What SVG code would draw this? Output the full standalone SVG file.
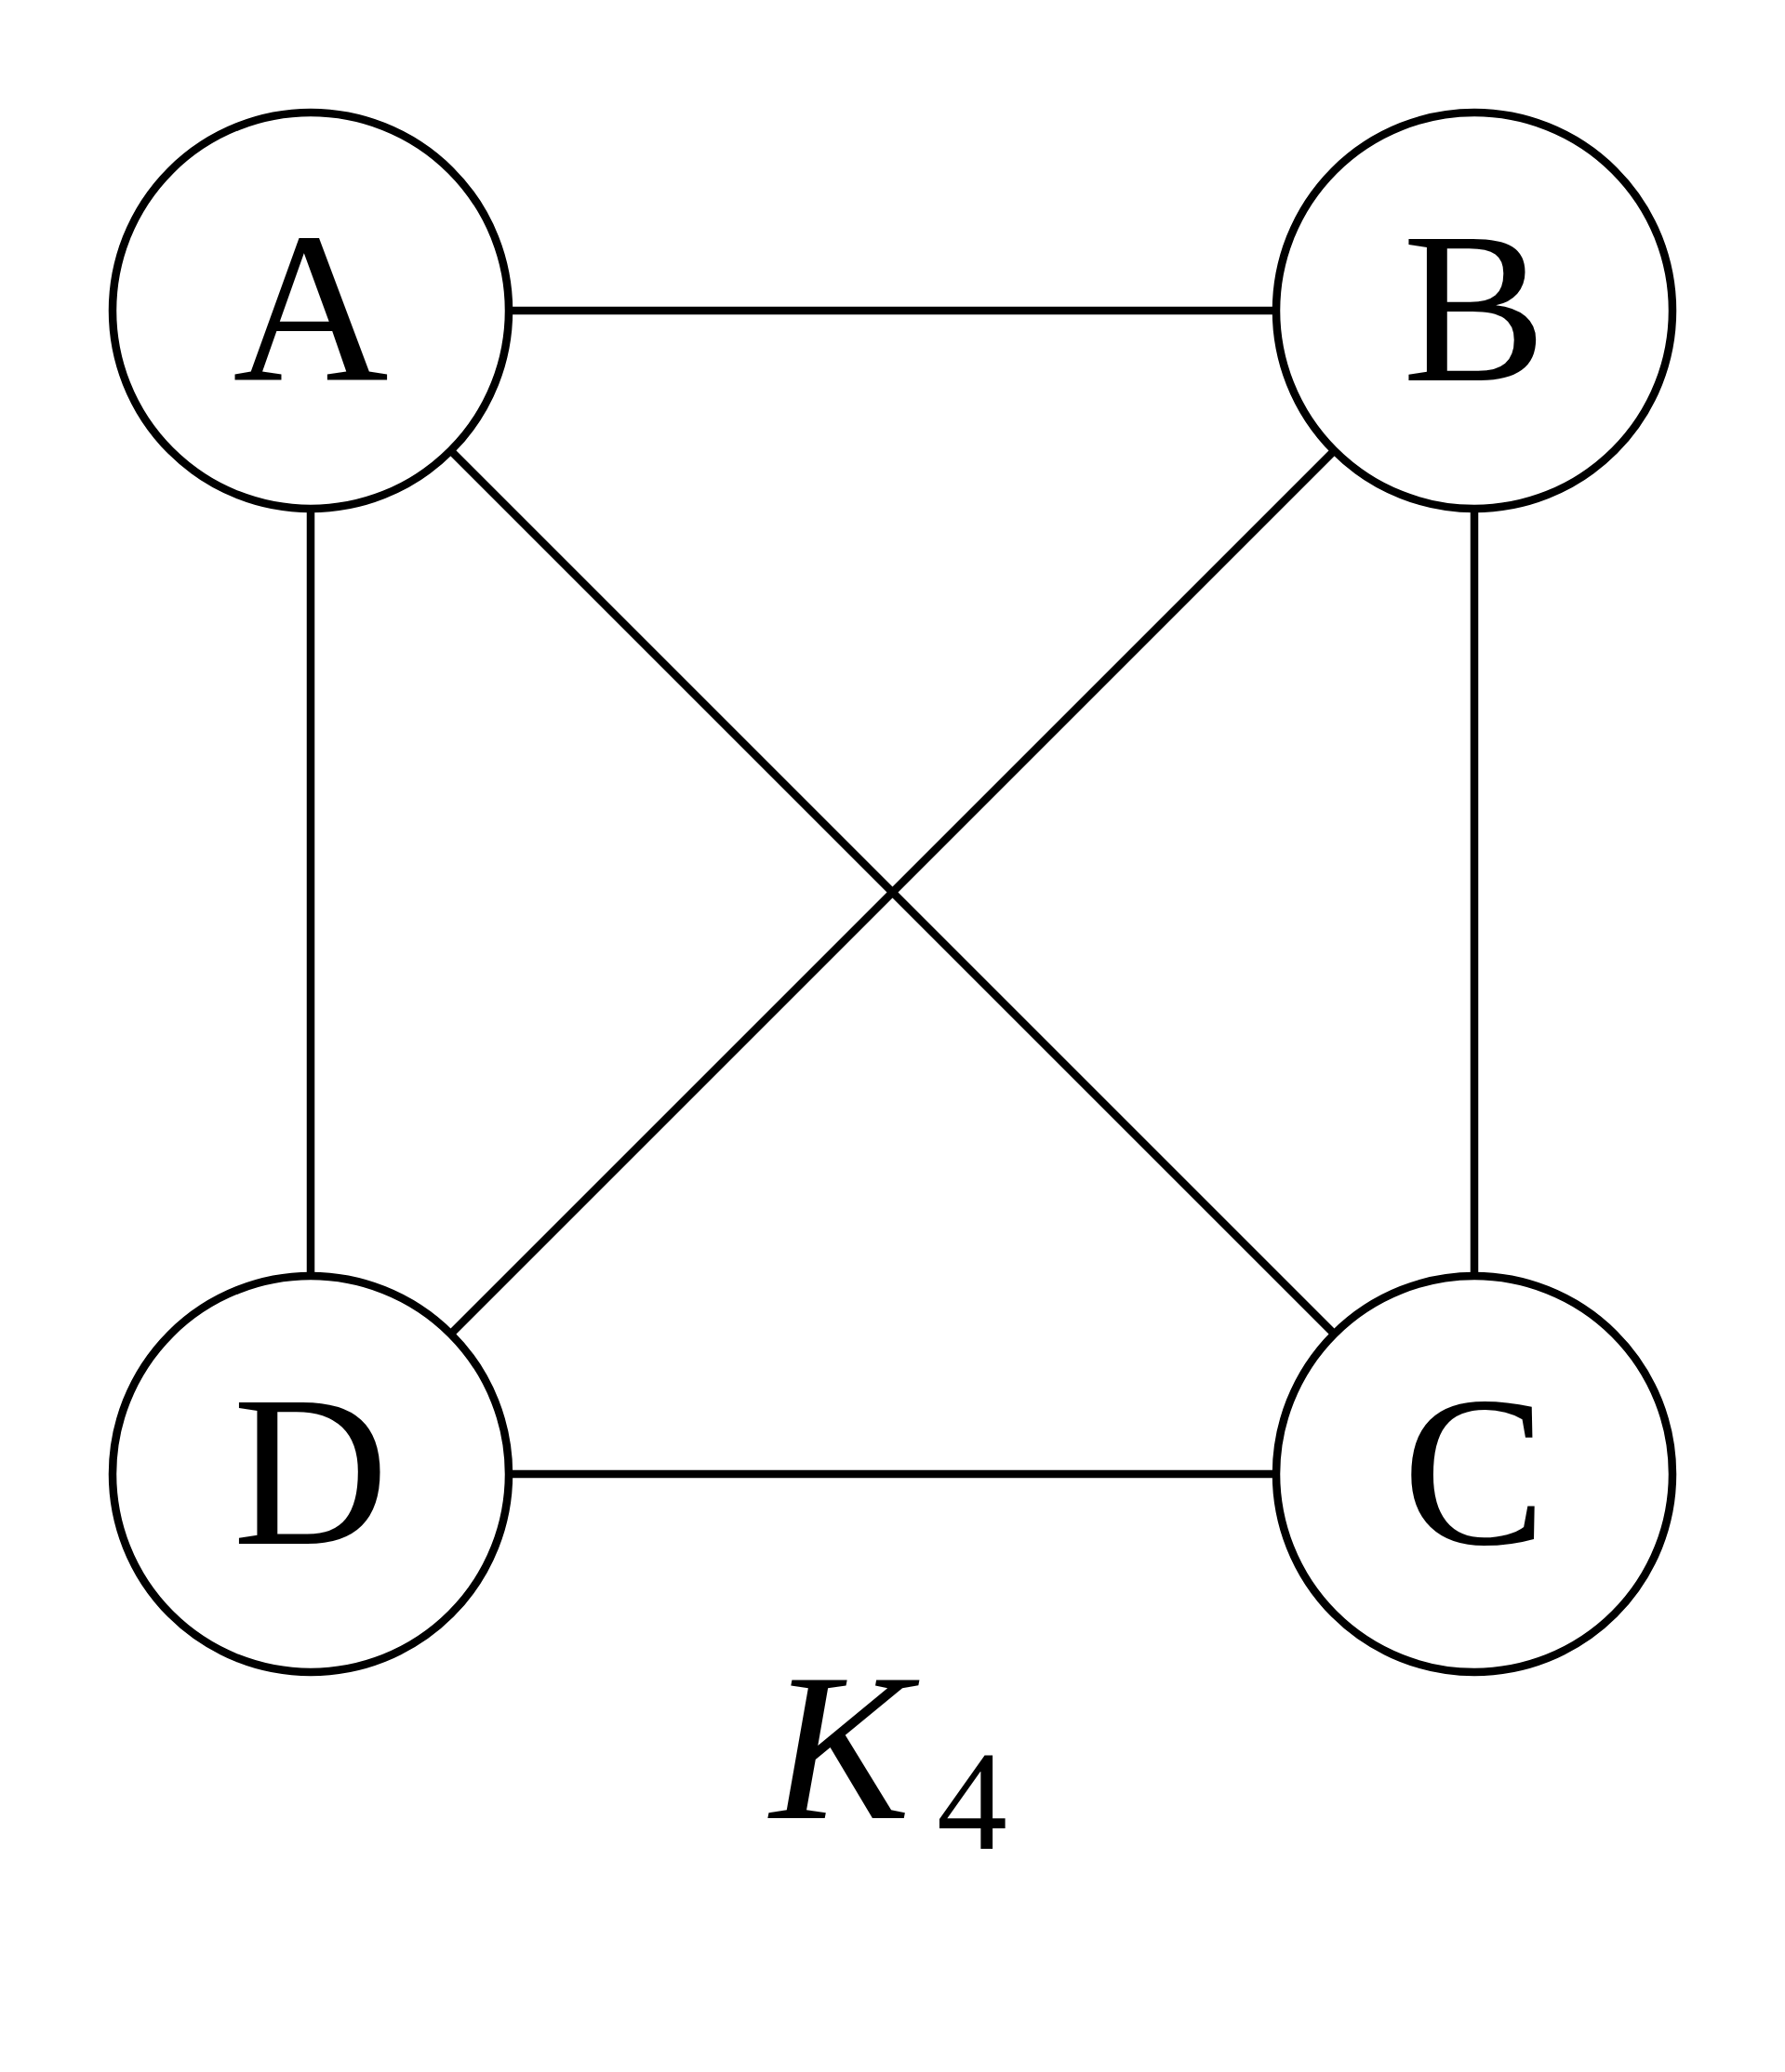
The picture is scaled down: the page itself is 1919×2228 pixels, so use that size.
<svg xmlns="http://www.w3.org/2000/svg" width="1919" height="2228" viewBox="0 0 1919 2228">
<style>
.node{fill:#fff;stroke:#000;stroke-width:8.5}
.edge{stroke:#000;stroke-width:8.5;fill:none}
.lbl{font-family:"Liberation Serif","Times New Roman",Times,serif;font-size:232px;text-anchor:middle;fill:#000}
.cap{font-family:"Liberation Serif","Times New Roman",Times,serif;fill:#000}
</style>
<rect width="1919" height="2228" fill="#fff"/>
<g id="edges">
<line class="edge" x1="547" y1="334" x2="1372" y2="334"/>
<line class="edge" x1="547" y1="1585" x2="1372" y2="1585"/>
<line class="edge" x1="334" y1="547" x2="334" y2="1372"/>
<line class="edge" x1="1585" y1="547" x2="1585" y2="1372"/>
<line class="edge" x1="485" y1="485" x2="1434" y2="1434"/>
<line class="edge" x1="1434" y1="485" x2="485" y2="1434"/>
</g>
<g id="node-A"><circle class="node" cx="334" cy="334" r="213"/><text class="lbl" x="334" y="409">A</text></g>
<g id="node-B"><circle class="node" cx="1585" cy="334" r="213"/><text class="lbl" x="1585" y="409">B</text></g>
<g id="node-D"><circle class="node" cx="334" cy="1585" r="213"/><text class="lbl" x="334" y="1660">D</text></g>
<g id="node-C"><circle class="node" cx="1585" cy="1585" r="213"/><text class="lbl" x="1585" y="1660">C</text></g>
<g id="caption"><text class="cap" x="828" y="1955" font-size="226" font-style="italic">K</text><text class="cap" x="1007" y="1988" font-size="152">4</text></g>
</svg>
